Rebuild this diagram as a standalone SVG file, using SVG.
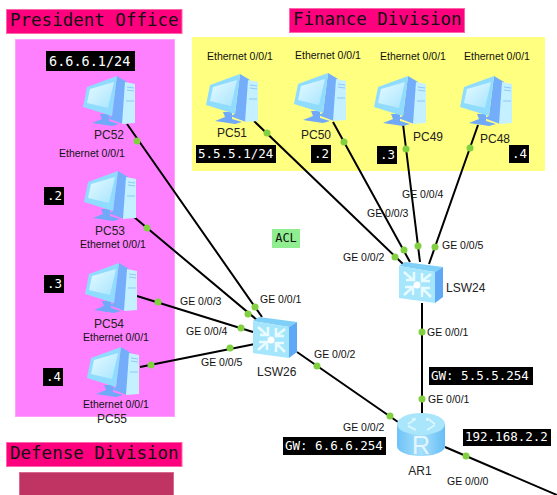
<svg xmlns="http://www.w3.org/2000/svg" width="557" height="495" viewBox="0 0 557 495">
<style>
.t{font-family:"Liberation Sans",Arial,sans-serif;font-size:10.5px;fill:#111}
.n{font-family:"Liberation Sans",Arial,sans-serif;font-size:12px;fill:#222}
.h{font-family:"DejaVu Sans Mono","Liberation Mono",monospace;font-size:17.5px;fill:#111}
.b{font-family:"DejaVu Sans Mono","Liberation Mono",monospace;font-size:12.5px;fill:#fff}
.m{font-family:"DejaVu Sans Mono","Liberation Mono",monospace;font-size:12px;fill:#111}
.k{fill:#000}
.l{fill:#ff007f;stroke:#ff66aa;stroke-width:1}
.c{stroke:#000;stroke-width:2;fill:none}
.d{fill:#80d040}
</style>
<defs>
<linearGradient id="sc" x1="0" y1="0" x2="1" y2="1"><stop offset="0" stop-color="#e6fbff"/><stop offset="1" stop-color="#a8e4ff"/></linearGradient>
<linearGradient id="rt" x1="0" y1="0" x2="1" y2="0"><stop offset="0" stop-color="#6fc3f7"/><stop offset=".5" stop-color="#a6e0fc"/><stop offset="1" stop-color="#66bdf5"/></linearGradient>
<symbol id="pc" viewBox="0 0 52 50" width="52" height="50" overflow="visible">
<path d="M17 38h9v7l10 3-7 2-20-3 10-4z" fill="#6fa9f8"/>
<path d="M34 0L44 6 40 48 24 42 29 40z" fill="#74aefa"/>
<path d="M42 6L52 8 52 47 39 48z" fill="#c4f0ff"/>
<path d="M44 11l7 1M44 14l7 1M43 25l8 0" stroke="#8fc9f5" stroke-width="1" fill="none"/>
<path d="M4 11L34 0 29 40 0 31z" fill="#8fdcff"/>
<path d="M7 13L31 6 25 32 4 27z" fill="url(#sc)"/>
</symbol>
<symbol id="sw" viewBox="0 0 44 41" width="44" height="41" overflow="visible">
<path d="M0 4L6 0 44 5 36 10z" fill="#7fd0f8"/>
<path d="M36 10L44 5 44 35 36 41z" fill="#5fa8f5"/>
<path d="M0 4L36 10 36 41 0 36z" fill="#a5e6fc"/>
<g stroke="#e8fbff" stroke-width="2.500" fill="none">
<path d="M5 10l9 8M15 10v8h-8M32 12l-9 7M23 11v8h8M5 33l9-8M6 25h8v8M32 35l-9-9M23 35v-9h8"/>
</g>
<circle cx="18" cy="23" r="3.500" fill="#fff"/>
</symbol>
<symbol id="rr" viewBox="0 0 48 43" width="48" height="43" overflow="visible">
<path d="M0 11V33C0 39 11 43 24 43S48 39 48 33V11z" fill="url(#rt)"/>
<ellipse cx="24" cy="11" rx="24" ry="11" fill="#a9e5fb"/>
<path d="M11 11l8-5M30 5l8 6M11 13l8 4M30 17l8-5M19 6h-4M30 5v3" stroke="#d8f6ff" stroke-width="2" fill="none"/>
<text x="24" y="41" text-anchor="middle" font-family="Liberation Sans,sans-serif" font-size="25" fill="#e4f7ff">R</text>
</symbol>
</defs>
<rect width="557" height="495" fill="#fff"/>
<rect x="15.500" y="39.500" width="159" height="377" fill="#ff80ff" stroke="#ffa0ff"/>
<rect x="192" y="37" width="353" height="134" fill="#ffff80"/>
<rect x="19.500" y="472.500" width="154" height="23" fill="#c03463" stroke="#d86a90"/>
<rect class="l" x="6.500" y="9.500" width="175.500" height="24"/><text class="h" x="10" y="26">President Office</text>
<rect class="l" x="289.500" y="8.500" width="175" height="24"/><text class="h" x="293" y="25">Finance Division</text>
<rect class="l" x="6.500" y="442.500" width="175.500" height="24"/><text class="h" x="10" y="459">Defense Division</text>
<rect x="272" y="229" width="28" height="19" fill="#90ee90"/><text class="m" x="286" y="242" text-anchor="middle">ACL</text>
<g id="connectors">
<path class="c" d="M127 124L262 317M134 217L257 320M137 296L253 332M140 367L255 344M297 352L398 422M254 121L403 264M333 122L410 262M403 124L420 262M478 125L429 264M422 303V413M445 447L557 495"/>
<g class="d">
<circle cx="137" cy="141" r="3.500"/><circle cx="147" cy="228" r="3.500"/><circle cx="158" cy="302" r="3.500"/><circle cx="151" cy="365" r="3.500"/>
<circle cx="248" cy="314" r="3.500"/><circle cx="255" cy="307" r="3.500"/><circle cx="241" cy="328" r="3.500"/><circle cx="230" cy="348" r="3.500"/>
<circle cx="317" cy="366" r="3.500"/><circle cx="390" cy="416" r="3.500"/>
<circle cx="267" cy="133" r="3.500"/><circle cx="344" cy="142" r="3.500"/><circle cx="406" cy="149" r="3.500"/><circle cx="470" cy="148" r="3.500"/>
<circle cx="395" cy="257" r="3.500"/><circle cx="404" cy="250" r="3.500"/><circle cx="418" cy="246" r="3.500"/><circle cx="435" cy="247" r="3.500"/>
<circle cx="422" cy="332" r="3.500"/><circle cx="422" cy="399" r="3.500"/><circle cx="466" cy="456" r="3.500"/>
</g>
</g>
<g id="PC52"><use href="#pc" x="83" y="76"/><text class="n" x="109" y="139" text-anchor="middle">PC52</text></g>
<g id="PC53"><use href="#pc" x="84" y="171"/><text class="n" x="110" y="235" text-anchor="middle">PC53</text></g>
<g id="PC54"><use href="#pc" x="85" y="263"/><text class="n" x="109" y="328" text-anchor="middle">PC54</text></g>
<g id="PC55"><use href="#pc" x="87" y="347"/><text class="n" x="112" y="423" text-anchor="middle">PC55</text></g>
<g id="PC51"><use href="#pc" x="206" y="74"/><text class="n" x="232" y="137" text-anchor="middle">PC51</text></g>
<g id="PC50"><use href="#pc" x="294" y="73"/><text class="n" x="316" y="139" text-anchor="middle">PC50</text></g>
<g id="PC49"><use href="#pc" x="374" y="76"/><text class="n" x="428" y="141" text-anchor="middle">PC49</text></g>
<g id="PC48"><use href="#pc" x="460" y="76"/><text class="n" x="495" y="143" text-anchor="middle">PC48</text></g>
<g id="LSW26"><use href="#sw" x="253" y="317"/><text class="n" x="257" y="376">LSW26</text></g>
<g id="LSW24"><use href="#sw" x="399" y="262"/><text class="n" x="446" y="292">LSW24</text></g>
<g id="AR1"><use href="#rr" x="397" y="413"/><text class="n" x="420" y="475" text-anchor="middle">AR1</text></g>
<g id="labels">
<text class="t" x="59" y="157">Ethernet 0/0/1</text><text class="t" x="80" y="248">Ethernet 0/0/1</text>
<text class="t" x="83" y="341">Ethernet 0/0/1</text><text class="t" x="83" y="408">Ethernet 0/0/1</text>
<text class="t" x="207" y="60">Ethernet 0/0/1</text><text class="t" x="295" y="59">Ethernet 0/0/1</text><text class="t" x="380" y="60">Ethernet 0/0/1</text><text class="t" x="464" y="60">Ethernet 0/0/1</text>
<text class="t" x="180" y="305">GE 0/0/3</text><text class="t" x="186" y="335">GE 0/0/4</text><text class="t" x="201" y="366">GE 0/0/5</text><text class="t" x="260" y="303">GE 0/0/1</text>
<text class="t" x="314" y="358">GE 0/0/2</text><text class="t" x="343" y="431">GE 0/0/2</text>
<text class="t" x="343" y="261">GE 0/0/2</text><text class="t" x="367" y="217">GE 0/0/3</text><text class="t" x="402" y="198">GE 0/0/4</text><text class="t" x="442" y="249">GE 0/0/5</text>
<text class="t" x="427" y="336">GE 0/0/1</text><text class="t" x="428" y="403">GE 0/0/1</text><text class="t" x="447" y="485">GE 0/0/0</text>
</g>
<g id="addresses">
<rect class="k" x="46" y="51" width="89" height="20"/><text class="b" x="49" y="66" style="font-size:13.500px">6.6.6.1/24</text>
<rect class="k" x="44" y="187" width="20" height="18"/><text class="b" x="47" y="200">.2</text>
<rect class="k" x="44" y="275" width="20" height="18"/><text class="b" x="47" y="288">.3</text>
<rect class="k" x="43" y="368" width="20" height="18"/><text class="b" x="46" y="381">.4</text>
<rect class="k" x="196" y="145" width="80" height="18"/><text class="b" x="198" y="158">5.5.5.1/24</text>
<rect class="k" x="311" y="145" width="20" height="18"/><text class="b" x="314" y="158">.2</text>
<rect class="k" x="377" y="146" width="20" height="18"/><text class="b" x="380" y="159">.3</text>
<rect class="k" x="509" y="145" width="20" height="18"/><text class="b" x="512" y="158">.4</text>
<rect class="k" x="429" y="367" width="104" height="18"/><text class="b" x="431" y="380">GW: 5.5.5.254</text>
<rect class="k" x="283" y="437" width="103" height="18"/><text class="b" x="285" y="450">GW: 6.6.6.254</text>
<rect class="k" x="463" y="429" width="88" height="17"/><text class="b" x="465" y="441">192.168.2.2</text>
</g>
</svg>
